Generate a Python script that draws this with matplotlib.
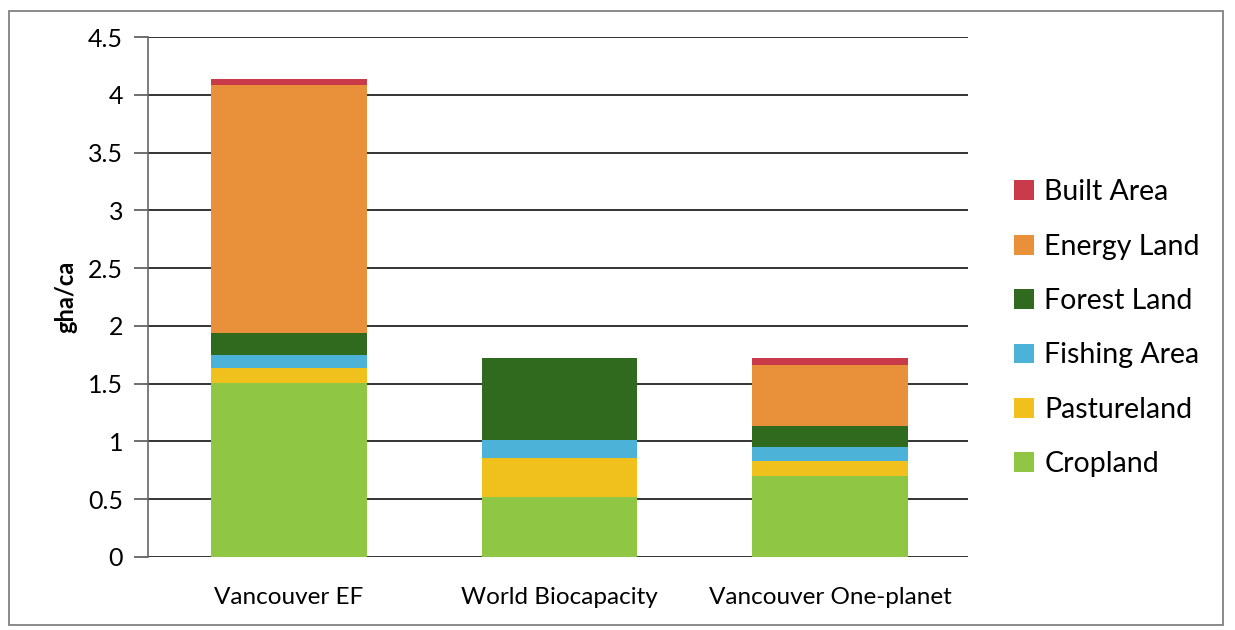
import matplotlib.pyplot as plt
from matplotlib.patches import Rectangle

plt.rcParams['font.family'] = ['Lato', 'DejaVu Sans']

# Ecological footprint by land type (gha per capita)
categories = ["Vancouver EF", "World Biocapacity", "Vancouver One-planet"]
cropland = [1.51, 0.52, 0.70]
pastureland = [0.13, 0.34, 0.13]
fishing_area = [0.11, 0.15, 0.12]
forest_land = [0.19, 0.71, 0.18]
energy_land = [2.15, 0.0, 0.53]
built_area = [0.05, 0.0, 0.06]

layers = [
    ("Cropland", cropland, "#8fc644"),
    ("Pastureland", pastureland, "#f0c11c"),
    ("Fishing Area", fishing_area, "#4cb2d8"),
    ("Forest Land", forest_land, "#2f6a1f"),
    ("Energy Land", energy_land, "#e9913a"),
    ("Built Area", built_area, "#c93a4a"),
]

fig = plt.figure(figsize=(12.35, 6.3), dpi=100)
ax = fig.add_axes([0.12, 0.116, 0.664, 0.825])

x = range(len(categories))
bottom = [0.0] * len(categories)
handles = []
for name, vals, color in layers:
    b = ax.bar(x, vals, width=0.575, bottom=bottom, color=color, label=name, zorder=3)
    handles.append(b)
    bottom = [bt + v for bt, v in zip(bottom, vals)]

ax.set_xlim(-0.52, 2.51)
ax.set_ylim(0, 4.5)
ax.set_yticks([0, 0.5, 1, 1.5, 2, 2.5, 3, 3.5, 4, 4.5])
ax.set_yticklabels(["0", "0.5", "1", "1.5", "2", "2.5", "3", "3.5", "4", "4.5"])
ax.set_xticks(list(x))
ax.set_xticklabels(categories)
ax.yaxis.grid(True, color="#333333", linewidth=1.4, zorder=0)
ax.set_axisbelow(True)

for side in ("top", "right", "bottom"):
    ax.spines[side].set_visible(False)
ax.spines["left"].set_color("#666666")
ax.spines["left"].set_linewidth(1.2)
ax.tick_params(axis="y", length=10, width=1.2, color="#555555", labelsize=18, pad=8)
ax.tick_params(axis="x", length=0, labelsize=17.5, pad=22)
ax.set_ylabel("gha/ca", fontsize=17, fontweight="bold", labelpad=8)

leg = ax.legend(handles[::-1], [l[0] for l in layers][::-1],
                loc="center left", bbox_to_anchor=(1.025, 0.44),
                frameon=False, fontsize=20.5, handlelength=0.7, handleheight=0.7,
                handletextpad=0.35, labelspacing=1.0)

# outer border around the chart area
fig.patches.append(Rectangle((0.007, 0.008), 0.983, 0.975, transform=fig.transFigure,
                             fill=False, edgecolor="#777777", linewidth=1.2))

fig.savefig("out.png", dpi=100)
